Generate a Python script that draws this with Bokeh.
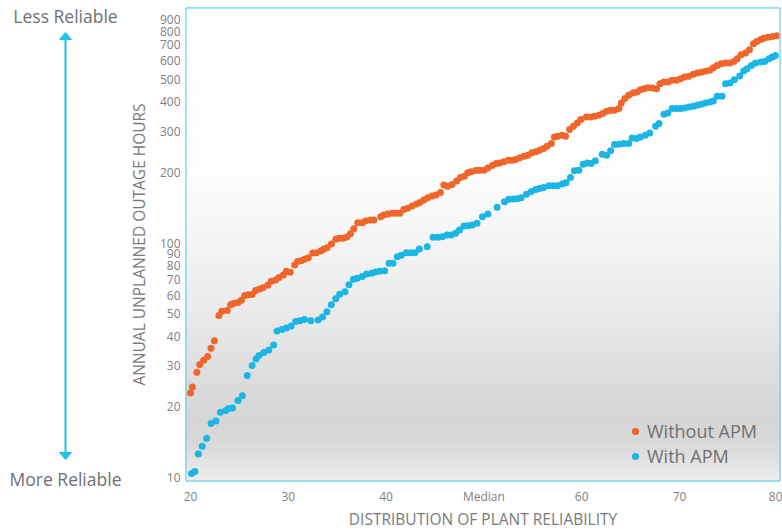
import numpy as np
from bokeh.plotting import figure
from bokeh.layouts import row
from bokeh.models import (FixedTicker, PrintfTickFormatter, Label, Legend, LegendItem, Range1d)
from bokeh.embed import file_html
from bokeh.resources import INLINE

# ---------------- data ----------------
without_x = [20.0, 20.2, 20.65, 20.95, 21.35, 21.75, 22.1, 22.45, 22.9, 23.2,
             23.75, 24.1, 24.4, 24.85, 25.2, 25.55, 25.9, 26.3, 26.65, 27.05,
             27.4, 27.9, 28.25, 28.7, 29.05, 29.5, 29.8, 30.2, 30.65, 30.95,
             31.3, 31.65, 32.05, 32.5, 32.85, 33.3, 33.6, 33.95, 34.4, 34.85,
             35.2, 35.6, 36.0, 36.35, 36.7, 37.1, 37.55, 37.9, 38.4, 38.75,
             39.45, 39.75, 40.15, 40.6, 41.0, 41.4, 41.8, 42.2, 42.65, 43.1,
             43.45, 43.85, 44.25, 44.7, 45.1, 45.55, 45.9, 46.3, 46.75, 47.2,
             47.6, 48.0, 48.35, 48.7, 49.15, 49.55, 50.0, 50.4, 50.85, 51.25,
             51.6, 52.05, 52.5, 52.9, 53.25, 53.65, 54.1, 54.5, 54.9, 55.3,
             55.7, 56.1, 56.45, 56.9, 57.2, 57.55, 58.0, 58.35, 58.75, 59.15,
             59.55, 59.9, 60.45, 60.9, 61.3, 61.75, 62.15, 62.55, 62.95, 63.35,
             63.8, 64.05, 64.4, 64.8, 65.25, 65.65, 66.0, 66.35, 66.75, 67.2,
             67.65, 68.0, 68.4, 68.8, 69.25, 69.7, 70.1, 70.5, 70.95, 71.4,
             71.8, 72.2, 72.65, 73.1, 73.45, 73.85, 74.25, 74.7, 75.15, 75.55,
             75.9, 76.3, 76.75, 77.15, 77.55, 77.9, 78.3, 78.6, 79.05, 79.5,
             79.95]
without_y = [22.9, 24.3, 28.1, 30.3, 31.6, 32.8, 35.6, 38.3, 49.1, 51.2,
             51.5, 54.6, 55.2, 55.7, 57.0, 59.7, 60.1, 60.3, 62.7, 63.7,
             64.5, 66.1, 68.7, 69.6, 71.2, 73.1, 75.8, 75.0, 80.6, 83.3,
             84.1, 85.2, 86.6, 90.7, 90.7, 92.5, 94.0, 95.5, 99.0, 103.7,
             104.7, 104.7, 106.0, 109.5, 115.0, 122.0, 122.0, 124.0, 125.3, 125.3,
             129.4, 131.5, 132.8, 133.8, 133.8, 133.8, 139.1, 140.5, 143.7, 146.6,
             149.0, 152.4, 155.9, 158.5, 160.1, 164.3, 176.6, 174.8, 177.7, 183.6,
             190.4, 192.8, 199.1, 201.1, 203.9, 204.5, 204.5, 209.1, 214.1, 218.4,
             219.6, 221.8, 225.5, 225.5, 227.1, 230.7, 234.6, 236.9, 242.3, 244.7,
             248.8, 252.9, 258.7, 265.7, 283.4, 285.3, 288.1, 285.3, 304.7, 314.7,
             325.1, 336.1, 344.7, 344.7, 347.1, 350.5, 356.4, 364.5, 368.1, 368.1,
             374.3, 395.4, 412.8, 426.4, 436.1, 440.4, 450.8, 455.2, 459.8, 457.9,
             455.2, 478.2, 485.8, 485.8, 493.9, 493.9, 502.2, 510.2, 513.6, 523.8,
             530.5, 534.2, 539.4, 544.7, 559.3, 572.0, 581.7, 585.0, 585.0, 595.0,
             610.9, 635.3, 645.4, 667.2, 707.5, 723.7, 738.1, 747.5, 754.9, 760.1,
             765.2]

with_x = [20.1, 20.45, 20.8, 21.2, 21.65, 22.1, 22.6, 23.05, 23.6, 23.9,
          24.3, 24.85, 25.3, 25.8, 26.3, 26.7, 27.0, 27.5, 28.0, 28.5,
          28.85, 29.35, 29.8, 30.3, 30.75, 31.2, 31.65, 32.3, 33.05, 33.5,
          33.95, 34.4, 34.85, 35.25, 35.8, 36.2, 36.65, 37.05, 37.55, 38.0,
          38.5, 38.9, 39.35, 39.85, 40.3, 40.7, 41.15, 41.55, 42.05, 42.5,
          42.95, 43.4, 44.2, 44.8, 45.3, 45.75, 46.2, 46.65, 47.1, 47.5,
          47.95, 48.35, 48.8, 49.3, 49.85, 50.4, 51.35, 52.1, 52.55, 53.0,
          53.4, 53.8, 54.35, 54.85, 55.3, 55.7, 56.1, 56.65, 57.1, 57.5,
          58.0, 58.4, 58.85, 59.25, 59.7, 60.15, 60.55, 60.95, 61.4, 62.1,
          62.55, 62.95, 63.35, 63.8, 64.3, 64.8, 65.15, 65.6, 66.0, 66.5,
          66.95, 67.55, 67.9, 68.4, 68.8, 69.25, 69.7, 70.1, 70.5, 70.95,
          71.4, 71.8, 72.2, 72.65, 73.1, 73.45, 73.85, 74.35, 74.7, 75.15,
          75.6, 76.15, 76.55, 76.9, 77.35, 77.75, 78.3, 78.7, 79.15, 79.5,
          79.8]
with_y = [10.4, 10.6, 12.6, 13.6, 14.7, 17.0, 17.4, 19.0, 19.3, 19.7,
          19.8, 21.3, 22.3, 27.2, 30.0, 32.0, 33.1, 34.1, 35.0, 36.7,
          42.1, 42.8, 43.4, 44.3, 46.3, 46.6, 47.2, 46.6, 47.0, 48.3,
          50.9, 54.5, 57.8, 60.5, 61.9, 66.3, 70.1, 70.8, 71.9, 73.8,
          74.3, 75.3, 75.8, 76.2, 82.0, 82.0, 87.4, 88.6, 90.9, 90.9,
          90.9, 94.3, 96.4, 105.7, 105.7, 106.4, 108.1, 108.1, 110.0, 113.6,
          118.1, 118.5, 119.3, 121.3, 129.4, 132.8, 141.9, 149.9, 153.5, 153.9,
          154.4, 155.9, 161.2, 166.0, 169.2, 170.9, 172.6, 175.3, 175.3, 175.3,
          178.3, 180.6, 190.4, 203.1, 204.5, 216.9, 219.6, 218.4, 224.0, 239.2,
          236.9, 247.1, 263.0, 263.8, 265.7, 265.7, 280.6, 279.0, 283.4, 288.1,
          294.7, 314.7, 323.2, 353.9, 358.4, 374.3, 374.3, 374.3, 376.5, 380.2,
          382.8, 386.6, 390.4, 395.4, 399.3, 403.2, 422.2, 422.2, 478.2, 481.0,
          497.3, 515.1, 541.1, 553.9, 572.0, 585.0, 590.9, 595.0, 610.9, 620.5,
          631.0]

x_ticks = [20, 30, 40, 50, 60, 70, 80]
x_tick_labels = ["20", "30", "40", "Median", "60", "70", "80"]
y_ticks = [10, 20, 30, 40, 50, 60, 70, 80, 90, 100, 200, 300, 400, 500, 600, 700, 800, 900]

series_names = ["Without APM", "With APM"]
scale_top_text = "Less Reliable"
scale_bottom_text = "More Reliable"

# ---------------- style ----------------
FONT = "Open Sans"
ORANGE = "#f0662a"
BLUE = "#1bb5e6"
CYAN = "#1cc2e9"
GREY_TXT = "#6f7073"
TICK_TXT = "#7f7f7f"

TOTAL_W, TOTAL_H = 782, 532
LEFT_W = 124
B_TOP, B_BOTTOM = 8, 51

# ---------------- left strip: reliability scale ----------------
lf = figure(width=LEFT_W, height=TOTAL_H, x_range=Range1d(0, LEFT_W),
            y_range=Range1d(TOTAL_H, 0),
            x_axis_location=None, y_axis_location=None,
            output_backend="svg", toolbar_location=None,
            min_border_left=0, min_border_right=0,
            min_border_top=0, min_border_bottom=0)
lf.frame_align = False
lf.outline_line_color = None
lf.xgrid.visible = False
lf.ygrid.visible = False
lf.background_fill_color = "white"
lf.border_fill_color = "white"
ax_c = 65
lf.segment(x0=[ax_c], y0=[37], x1=[ax_c], y1=[454], line_color=CYAN, line_width=2)
lf.patches(xs=[[ax_c - 6, ax_c + 6, ax_c], [ax_c - 6, ax_c + 6, ax_c]],
           ys=[[39, 39, 32], [452, 452, 459]], fill_color=CYAN, line_color=CYAN)
lf.add_layout(Label(x=ax_c, y=15, text=scale_top_text, text_align="center",
                    text_baseline="middle", text_font=FONT, text_font_size="17.5px",
                    text_color=GREY_TXT))
lf.add_layout(Label(x=ax_c, y=478, text=scale_bottom_text, text_align="center",
                    text_baseline="middle", text_font=FONT, text_font_size="17.5px",
                    text_color=GREY_TXT))

# ---------------- main chart ----------------
X0, X1 = 19.59, 80.22
Y0, Y1 = 9.71, 1000.0

p = figure(width=TOTAL_W - LEFT_W, height=TOTAL_H, y_axis_type="log",
           x_range=Range1d(X0, X1), y_range=Range1d(Y0, Y1),
           output_backend="svg", toolbar_location=None,
           min_border_left=186 - LEFT_W, min_border_right=3,
           min_border_top=B_TOP, min_border_bottom=B_BOTTOM)
p.frame_align = False

p.background_fill_color = "white"
p.border_fill_color = "white"
p.outline_line_color = CYAN
p.outline_line_width = 2
p.xgrid.visible = False
p.ygrid.visible = False

# background vertical gradient (bands across the plot area)
grad_pos = [0.0, 0.32, 0.47, 0.62, 0.76, 0.87, 0.92, 0.96, 1.0]
grad_grey = [255, 254, 246, 236, 223, 214, 216, 226, 238]
n_band = 95
ly0, ly1 = np.log10(Y1), np.log10(Y0)
fr = np.linspace(0, 1, n_band + 1)
tops = 10 ** (ly0 + (ly1 - ly0) * fr[:-1])
bots = 10 ** (ly0 + (ly1 - ly0) * fr[1:])
mids = (fr[:-1] + fr[1:]) / 2
cols = []
for m in mids:
    g = int(round(np.interp(m, grad_pos, grad_grey)))
    cols.append("#%02x%02x%02x" % (g, g, g))
p.quad(left=X0, right=X1, top=tops, bottom=bots, fill_color=cols,
       line_color=cols, line_width=1)

r_without = p.scatter(without_x, without_y, size=7, color=ORANGE, line_color=None)
r_with = p.scatter(with_x, with_y, size=7, color=BLUE, line_color=None)

# axes
for ax in (p.xaxis[0], p.yaxis[0]):
    ax.axis_line_color = None
    ax.major_tick_line_color = None
    ax.minor_tick_line_color = None
    ax.major_tick_out = 0
    ax.major_tick_in = 0
    ax.major_label_text_font = FONT
    ax.major_label_text_font_size = "12px"
    ax.major_label_text_color = TICK_TXT
    ax.axis_label_text_font = FONT
    ax.axis_label_text_font_size = "15.5px"
    ax.axis_label_text_font_style = "normal"
    ax.axis_label_text_color = "#7a7a7a"

p.xaxis.ticker = FixedTicker(ticks=x_ticks)
p.xaxis.major_label_overrides = {t: l for t, l in zip(x_ticks, x_tick_labels)}
p.xaxis.major_label_standoff = 7
p.xaxis.axis_label = "DISTRIBUTION OF PLANT RELIABILITY"
p.xaxis.axis_label_standoff = 0

p.yaxis.ticker = FixedTicker(ticks=y_ticks, minor_ticks=[])
p.yaxis.formatter = PrintfTickFormatter(format="%d")
p.yaxis.major_label_standoff = 6
p.yaxis.axis_label = "ANNUAL UNPLANNED OUTAGE HOURS"
p.yaxis.axis_label_standoff = 7

# legend
legend = Legend(items=[LegendItem(label=series_names[0], renderers=[r_without]),
                       LegendItem(label=series_names[1], renderers=[r_with])],
                location=(440, 12))
legend.background_fill_alpha = 0
legend.border_line_color = None
legend.label_text_font = FONT
legend.label_text_font_size = "18px"
legend.label_text_color = GREY_TXT
legend.glyph_width = 18
legend.glyph_height = 18
legend.label_standoff = 3
legend.label_height = 20
legend.spacing = 1
legend.padding = 0
legend.margin = 0
p.add_layout(legend)

layout = row(lf, p)
open("out.html", "w").write(file_html(layout, INLINE))
